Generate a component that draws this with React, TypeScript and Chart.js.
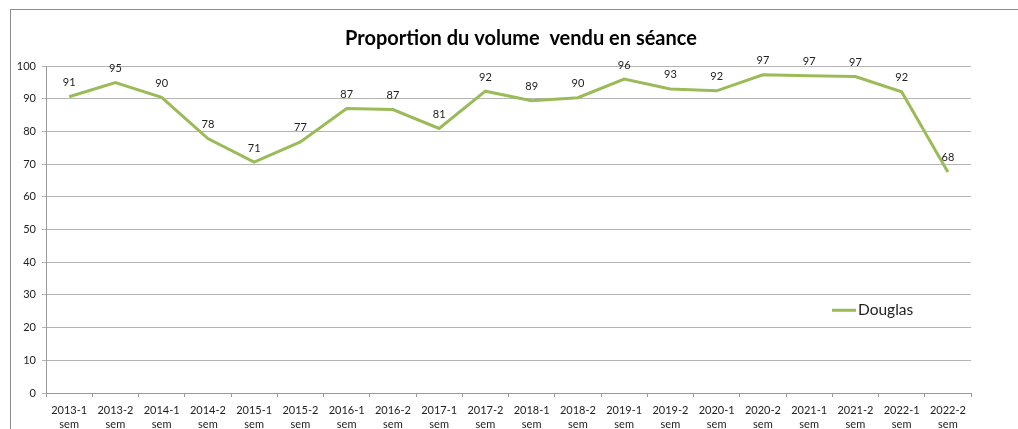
import React, { useEffect, useRef } from "react";
import { Chart, registerables } from "chart.js";

Chart.register(...registerables);

const categories: string[][] = [
  ["2013-1", "sem"], ["2013-2", "sem"], ["2014-1", "sem"], ["2014-2", "sem"],
  ["2015-1", "sem"], ["2015-2", "sem"], ["2016-1", "sem"], ["2016-2", "sem"],
  ["2017-1", "sem"], ["2017-2", "sem"], ["2018-1", "sem"], ["2018-2", "sem"],
  ["2019-1", "sem"], ["2019-2", "sem"], ["2020-1", "sem"], ["2020-2", "sem"],
  ["2021-1", "sem"], ["2021-2", "sem"], ["2022-1", "sem"], ["2022-2", "sem"],
];

const douglas: number[] = [
  90.6, 94.9, 90.4, 77.8, 70.6, 76.8, 87.0, 86.7, 80.9, 92.3,
  89.4, 90.3, 96.0, 93.0, 92.4, 97.3, 97.0, 96.8, 92.1, 67.6,
];

const yTicks: number[] = [0, 10, 20, 30, 40, 50, 60, 70, 80, 90, 100];

const titleText = "Proportion du volume  vendu en séance";
const seriesName = "Douglas";
const lineColor = "#9bbb59";
const FONT = "Lato, 'Open Sans', sans-serif";

const decorPlugin = {
  id: "decor",
  beforeDraw(chart: any) {
    const ctx = chart.ctx;
    ctx.save();
    ctx.strokeStyle = "#8c8c8c";
    ctx.lineWidth = 1;
    ctx.strokeRect(10.5, 9.5, 2000, 2000);
    ctx.restore();
  },
  afterDatasetsDraw(chart: any) {
    const ctx = chart.ctx;
    const meta = chart.getDatasetMeta(0);
    ctx.save();
    // data labels
    ctx.font = `11px ${FONT}`;
    ctx.fillStyle = "#222";
    ctx.textAlign = "center";
    ctx.textBaseline = "middle";
    meta.data.forEach((pt: any, i: number) => {
      ctx.fillText(String(Math.round(douglas[i])), pt.x, pt.y - 14);
    });
    // title
    ctx.font = `bold 20px ${FONT}`;
    ctx.fillStyle = "#000";
    ctx.fillText(titleText, 521, 39);
    // legend
    const y = chart.scales.y.getPixelForValue(25.3);
    ctx.strokeStyle = lineColor;
    ctx.lineWidth = 3;
    ctx.beginPath();
    ctx.moveTo(832, y);
    ctx.lineTo(856, y);
    ctx.stroke();
    ctx.font = `15.5px ${FONT}`;
    ctx.fillStyle = "#222";
    ctx.textAlign = "left";
    ctx.fillText(seriesName, 858, y);
    ctx.restore();
  },
};

export default function App() {
  const ref = useRef<HTMLCanvasElement>(null);
  useEffect(() => {
    document.body.style.margin = "0";
    document.body.style.overflow = "hidden";
    const chart = new Chart(ref.current as HTMLCanvasElement, {
      type: "line",
      data: {
        labels: categories,
        datasets: [
          {
            label: seriesName,
            data: douglas,
            borderColor: lineColor,
            backgroundColor: lineColor,
            borderWidth: 3,
            pointRadius: 0,
            tension: 0,
          },
        ],
      },
      options: {
        responsive: false,
        animation: false,
        layout: { padding: { left: 0, right: 47, top: 66, bottom: 0 } },
        plugins: {
          legend: { display: false },
          title: { display: false },
          tooltip: { enabled: false },
        },
        scales: {
          x: {
            type: "category",
            offset: true,
            grid: {
              offset: true,
              drawOnChartArea: false,
              drawTicks: true,
              tickLength: 4,
              color: "#9a9a9a",
            },
            border: { color: "#9a9a9a" },
            ticks: {
              font: { family: FONT, size: 11, lineHeight: 1.3 },
              color: "#222",
              padding: 6,
              maxRotation: 0,
              autoSkip: false,
            },
            afterFit(scale: any) {
              scale.height = 36;
            },
          },
          y: {
            min: 0,
            max: 100,
            afterBuildTicks(scale: any) {
              scale.ticks = yTicks.map((v) => ({ value: v }));
            },
            grid: { color: "#b5b5b5", tickLength: 4, drawTicks: true },
            border: { color: "#9a9a9a" },
            ticks: {
              font: { family: FONT, size: 11 },
              color: "#222",
              padding: 6,
            },
            afterFit(scale: any) {
              scale.width = 46;
            },
          },
        },
      },
      plugins: [decorPlugin],
    });
    return () => chart.destroy();
  }, []);
  return (
    <div style={{ width: 1018, height: 429 }}>
      <canvas ref={ref} width={1018} height={429} style={{ display: "block" }} />
    </div>
  );
}
